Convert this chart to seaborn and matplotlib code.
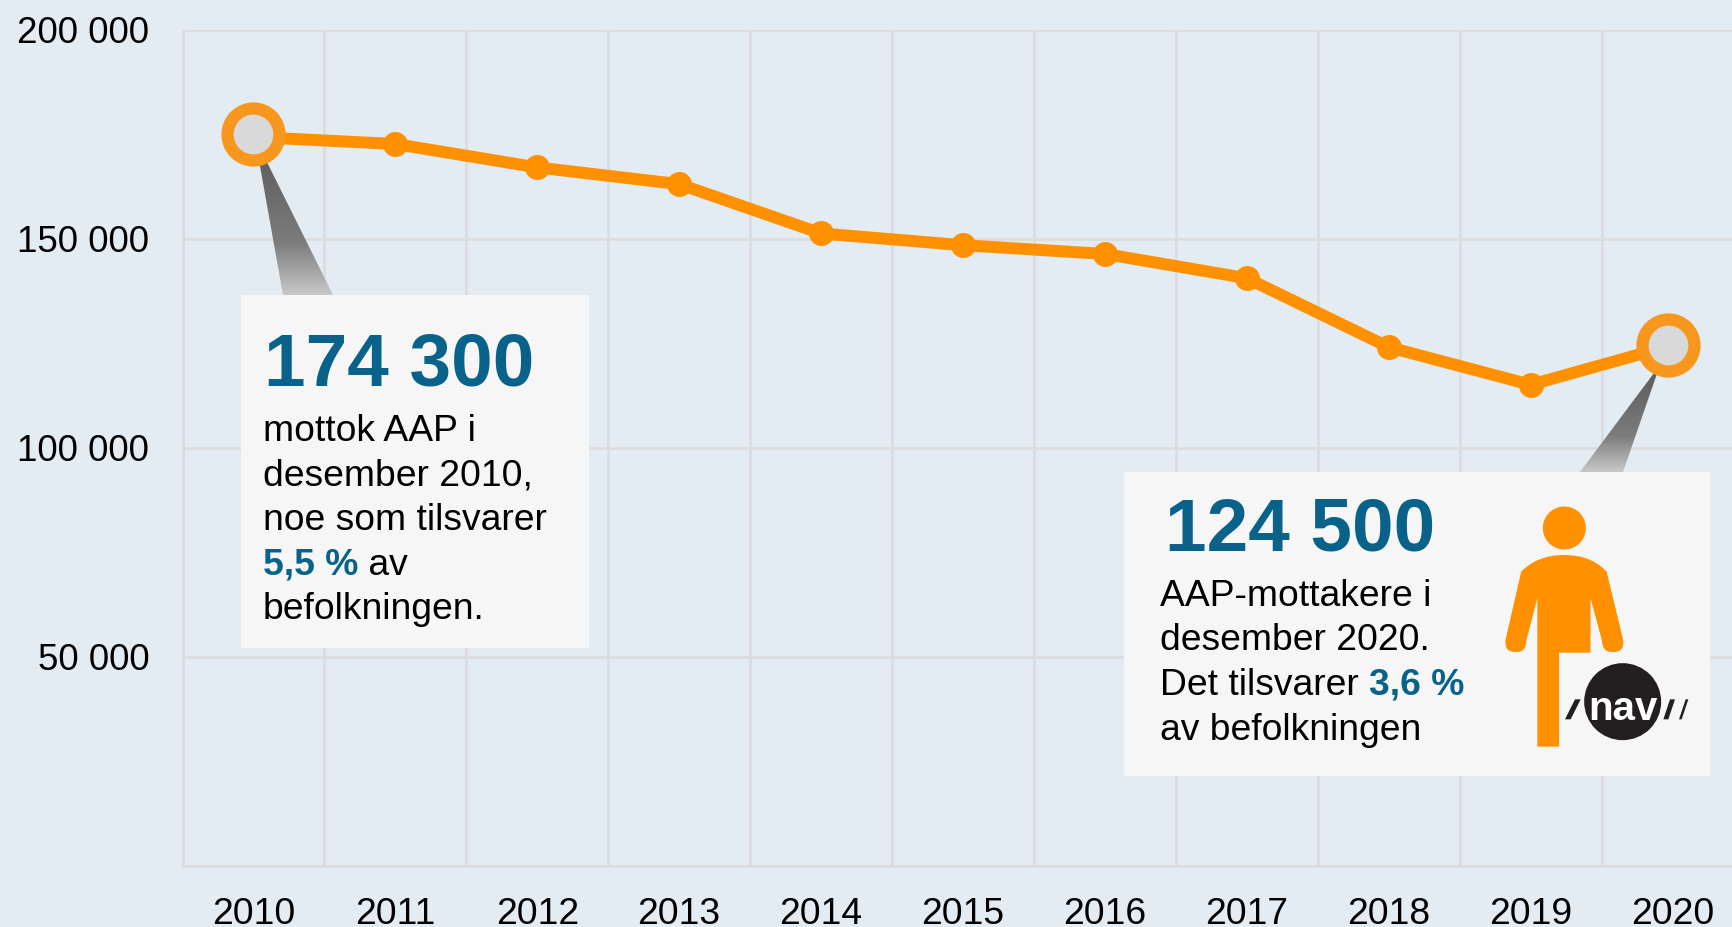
import numpy as np
import pandas as pd
import matplotlib
matplotlib.use("Agg")
import matplotlib.pyplot as plt
from matplotlib.colors import LinearSegmentedColormap
from matplotlib.patches import Polygon, Ellipse, Rectangle, PathPatch
from matplotlib.path import Path
from matplotlib.transforms import ScaledTranslation
import seaborn as sns

years = [2010, 2011, 2012, 2013, 2014, 2015, 2016, 2017, 2018, 2019, 2020]
recipients = [174300, 172600, 167000, 163000, 151200, 148400, 146300, 140500, 124000, 115000, 124500]
ring_years = [2010, 2019.97]
ring_values = [175000, 124600]
y_ticks = [50000, 100000, 150000, 200000]
y_labels = ["50 000", "100 000", "150 000", "200 000"]

BG = "#E3EBF3"
GRID = "#DBDCDE"
ORANGE = "#FF9100"
RING = "#F7971E"
BLUE = "#08628A"
PANEL = "#F6F6F6"
FONT = "Liberation Sans"
W, H = 1732, 928

sns.set_theme(style="white", rc={"axes.facecolor": BG, "figure.facecolor": BG})
plt.rcParams["font.family"] = [FONT, "DejaVu Sans"]

fig = plt.figure(figsize=(W / 100, H / 100), dpi=100)
pos = [182.5 / W, (H - 866.5) / H, 1561 / W, 836 / H]
ax = fig.add_axes(pos)
df = pd.DataFrame({"year": years, "recipients": recipients})
sns.lineplot(data=df, x="year", y="recipients", ax=ax, color=ORANGE, linewidth=8.6,
             marker="o", markersize=18, markeredgewidth=0, zorder=3, clip_on=False)
ax.set_xlim(2009.5, 2020.5)
ax.set_ylim(0, 200000)
ax.set_xlabel("")
ax.set_ylabel("")
ax.set_xticks(years)
ax.set_xticklabels([str(y) for y in years])
ax.set_xticks([y - 0.5 for y in years], minor=True)
ax.set_yticks(y_ticks)
ax.set_yticklabels(y_labels)
ax.tick_params(axis="both", which="both", length=0)
ax.tick_params(axis="x", which="major", labelsize=26.8, colors="black", pad=22)
ax.tick_params(axis="y", which="major", labelsize=26.5, colors="black", pad=24)
up = ScaledTranslation(0, 1.0 / 100, fig.dpi_scale_trans)
for lab in ax.get_yticklabels():
    lab.set_transform(lab.get_transform() + up)
ax.grid(True, axis="y", which="major", color=GRID, linewidth=1.9)
ax.grid(True, axis="x", which="minor", color=GRID, linewidth=1.9)
ax.set_axisbelow(True)
for name, sp in ax.spines.items():
    sp.set_visible(name in ("left", "bottom"))
    sp.set_color(GRID)
    sp.set_linewidth(1.9)

# overlay in pixel coordinates for the annotation panels
ov = fig.add_axes([0, 0, 1, 1], zorder=5)
ov.patch.set_alpha(0)
ov.axis("off")

grey = LinearSegmentedColormap.from_list("g", ["#5A5A5A", "#6A6A6A", "#7C7C7C", "#C8C8C8"])
grad = np.linspace(0, 1, 256).reshape(-1, 1)
for tri in ([(255, 139), (283, 296), (333, 296)], [(1660, 366), (1580, 473), (1623, 473)]):
    xs, ys = zip(*tri)
    im = ov.imshow(grad, cmap=grey, aspect="auto", zorder=1,
                   extent=[min(xs), max(xs), max(ys), min(ys)])
    clip = Polygon(tri, closed=True, transform=ov.transData, facecolor="none", edgecolor="none")
    ov.add_patch(clip)
    im.set_clip_path(clip)
ov.set_xlim(0, W)
ov.set_ylim(H, 0)

# highlighted end points sit above the callout wedges
ring_ax = fig.add_axes(pos, zorder=7)
ring_ax.patch.set_alpha(0)
rings = pd.DataFrame({"year": ring_years, "value": ring_values})
sns.scatterplot(data=rings, x="year", y="value", ax=ring_ax, s=1400, color="#D9D9D9",
                edgecolor=RING, linewidth=8.8, clip_on=False, legend=False)
ring_ax.set_xlim(ax.get_xlim())
ring_ax.set_ylim(ax.get_ylim())
ring_ax.axis("off")

ov.add_patch(Rectangle((241, 295.5), 348, 353, facecolor=PANEL, edgecolor="none", zorder=2))
ov.add_patch(Rectangle((1124, 472.5), 586, 304, facecolor=PANEL, edgecolor="none", zorder=2))

ov.text(264, 386, "174 300", color=BLUE, fontsize=53.8, fontweight="bold", zorder=4)
ov.text(1165, 551, "124 500", color=BLUE, fontsize=53.8, fontweight="bold", zorder=4)


def mixed(x, y, parts):
    r = fig.canvas.get_renderer()
    for s, bold in parts:
        t = ov.text(x, y, s, fontsize=26.8, zorder=4, color=BLUE if bold else "black",
                    fontweight="bold" if bold else "normal")
        x = t.get_window_extent(r).x1


for i, s in enumerate(["mottok AAP i", "desember 2010,", "noe som tilsvarer"]):
    ov.text(263, 441.5 + 44.5 * i, s, fontsize=26.8, color="black", zorder=4)
mixed(263, 575, [("5,5 %", True), ("\u00a0av", False)])
ov.text(263, 619.5, "befolkningen.", fontsize=26.8, color="black", zorder=4)

ov.text(1160, 606, "AAP-mottakere i", fontsize=26.8, color="black", zorder=4)
ov.text(1160, 650.5, "desember 2020.", fontsize=26.8, color="black", zorder=4)
mixed(1160, 695, [("Det tilsvarer\u00a0", False), ("3,6 %", True)])
ov.text(1160, 740, "av befolkningen", fontsize=26.8, color="black", zorder=4)


# person pictogram
def z(zx, zy):
    return (1100 + zx / 2.481, 300 + zy / 3)


ov.add_patch(Ellipse(z(1152, 687), 43, 43, facecolor=ORANGE, edgecolor="none", zorder=3))
verts = [z(1152, 768), z(1085, 768), z(1045, 818),
         z(1006, 1023), z(1003, 1061), z(1032, 1059), z(1058, 1061), z(1058, 1023),
         z(1085, 898), z(1085, 1343), z(1139, 1343), z(1139, 1061), z(1217, 1061), z(1217, 898),
         z(1245, 1023), z(1246, 1061), z(1272, 1059), z(1301, 1061), z(1298, 1023),
         z(1257, 818), z(1219, 768), z(1152, 768)]
codes = [Path.MOVETO, Path.CURVE3, Path.CURVE3,
         Path.LINETO, Path.CURVE3, Path.CURVE3, Path.CURVE3, Path.CURVE3,
         Path.LINETO, Path.LINETO, Path.LINETO, Path.LINETO, Path.LINETO, Path.LINETO,
         Path.LINETO, Path.CURVE3, Path.CURVE3, Path.CURVE3, Path.CURVE3,
         Path.LINETO, Path.CURVE3, Path.CURVE3]
ov.add_patch(PathPatch(Path(verts, codes), facecolor=ORANGE, edgecolor="none", zorder=3))


# logo
def q(zx, zy):
    return (1540 + zx / 3, 640 + zy / 3)


LOGO = "#231F20"
ov.add_patch(Ellipse(q(248, 188), 77, 77, facecolor=LOGO, edgecolor="none", zorder=4))
for a, b, c, d in [(75, 92, 105, 122), (370, 385, 390, 405), (417, 425, 437, 445)]:
    ov.add_patch(Polygon([q(a, 241), q(b, 241), q(d, 181), q(c, 181)], closed=True,
                         facecolor=LOGO, edgecolor="none", zorder=4))
ov.text(1623, 720, "nav", color="white", fontsize=29, fontweight="bold", ha="center", va="baseline", zorder=5)

fig.savefig("out.png", dpi=100, facecolor=BG)
